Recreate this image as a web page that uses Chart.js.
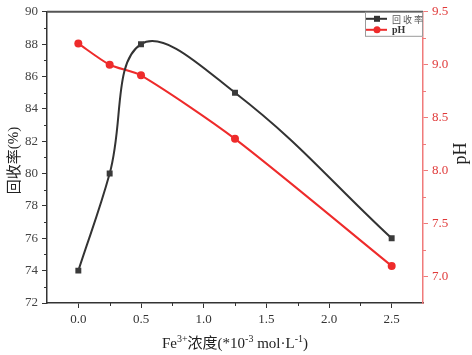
<!DOCTYPE html>
<html>
<head>
<meta charset="utf-8">
<script src="https://cdn.jsdelivr.net/npm/chart.js@4"></script>
<style>
  html, body { margin: 0; padding: 0; background: #fff; }
  #wrap { width: 472px; height: 355px; }
</style>
</head>
<body>
<div id="wrap"><canvas id="chart" width="472" height="355"></canvas></div>
<script>
// data
const concentration = [0, 0.25, 0.5, 1.25, 2.5];
const recovery = [74, 80, 88, 85, 76];
const phValues = [9.2, 9.0, 8.9, 8.3, 7.1];

const xTicks = [0, 0.5, 1.0, 1.5, 2.0, 2.5];
const xMinor = [0.25, 0.75, 1.25, 1.75, 2.25];
const leftTicks = [72, 74, 76, 78, 80, 82, 84, 86, 88, 90];
const leftMinor = [73, 75, 77, 79, 81, 83, 85, 87, 89];
const rightTicks = [7.0, 7.5, 8.0, 8.5, 9.0, 9.5];
const rightMinor = [7.25, 7.75, 8.25, 8.75, 9.25];

const DARK = '#333333';
const RED = '#ee2b2b';
const RED_AXIS = '#f07a7a';
const SERIF = '"Liberation Serif", "Times New Roman", serif';
const CJK = '"Noto Sans CJK SC", sans-serif';

function toPoints(xs, ys) {
    return xs.map((x, i) => ({ x: x, y: ys[i] }));
}

function setTicks(values) {
    return function(scale) {
        scale.ticks = values.map(v => ({ value: v }));
    };
}

// minor ticks, frame top line, axis titles and legend
const extras = {
    id: 'extras',
    afterDraw(chart) {
        const ctx = chart.ctx;
        const a = chart.chartArea;
        const sx = chart.scales.x, yl = chart.scales.y, yr = chart.scales.y1;
        ctx.save();

        // top frame line
        ctx.strokeStyle = '#555';
        ctx.lineWidth = 2;
        ctx.beginPath();
        ctx.moveTo(a.left, a.top);
        ctx.lineTo(a.right, a.top);
        ctx.stroke();

        // minor ticks
        ctx.lineWidth = 1;
        ctx.strokeStyle = DARK;
        ctx.beginPath();
        xMinor.forEach(v => {
            const px = Math.round(sx.getPixelForValue(v)) + 0.5;
            ctx.moveTo(px, a.bottom);
            ctx.lineTo(px, a.bottom + 3);
        });
        leftMinor.forEach(v => {
            const py = Math.round(yl.getPixelForValue(v)) + 0.5;
            ctx.moveTo(a.left, py);
            ctx.lineTo(a.left - 3, py);
        });
        ctx.stroke();
        ctx.strokeStyle = RED_AXIS;
        ctx.beginPath();
        rightMinor.forEach(v => {
            const py = Math.round(yr.getPixelForValue(v)) + 0.5;
            ctx.moveTo(a.right, py);
            ctx.lineTo(a.right + 3, py);
        });
        ctx.stroke();

        // left title
        ctx.fillStyle = '#222';
        ctx.textBaseline = 'middle';
        ctx.textAlign = 'center';
        ctx.save();
        ctx.translate(13, (a.top + a.bottom) / 2 + 3);
        ctx.rotate(-Math.PI / 2);
        ctx.font = '15px ' + CJK;
        const t1 = '回收率';
        ctx.font = '15px ' + SERIF;
        const t2 = '(%)';
        ctx.font = '15px ' + CJK;
        const w1 = ctx.measureText(t1).width;
        ctx.font = '15px ' + SERIF;
        const w2 = ctx.measureText(t2).width;
        ctx.textAlign = 'left';
        ctx.font = '15px ' + CJK;
        ctx.fillText(t1, -(w1 + w2) / 2, 0);
        ctx.font = '15px ' + SERIF;
        ctx.fillText(t2, -(w1 + w2) / 2 + w1, 1);
        ctx.restore();

        // right title
        ctx.save();
        ctx.translate(461, (a.top + a.bottom) / 2 - 4);
        ctx.rotate(-Math.PI / 2);
        ctx.font = '18px ' + SERIF;
        ctx.textAlign = 'center';
        ctx.fillText('pH', 0, 0);
        ctx.restore();

        // bottom title with superscripts
        const parts = [
            ['Fe', SERIF, 15, 0],
            ['3+', SERIF, 10, -6],
            ['浓度', CJK, 15, 0],
            ['(*10', SERIF, 15, 0],
            ['-3', SERIF, 10, -6],
            [' mol·L', SERIF, 15, 0],
            ['-1', SERIF, 10, -6],
            [')', SERIF, 15, 0]
        ];
        let total = 0;
        parts.forEach(p => {
            ctx.font = p[2] + 'px ' + p[1];
            p.push(ctx.measureText(p[0]).width);
            total += p[4];
        });
        let cx = (a.left + a.right) / 2 - total / 2;
        ctx.textAlign = 'left';
        ctx.textBaseline = 'alphabetic';
        parts.forEach(p => {
            ctx.font = p[2] + 'px ' + p[1];
            ctx.fillText(p[0], cx, 348 + p[3]);
            cx += p[4];
        });

        // legend box
        const lx = 365, ly = a.top, lw = a.right - 365, lh = 24;
        ctx.fillStyle = '#fff';
        ctx.fillRect(lx, ly + 1, lw, lh);
        ctx.strokeStyle = '#9a9a9a';
        ctx.lineWidth = 1;
        ctx.strokeRect(lx + 0.5, ly + 0.5, lw - 1, lh);
        const rows = [
            { label: '回 收 率', color: DARK, shape: 'rect', font: '9px ' + CJK, text: '#555' },
            { label: 'pH', color: RED, shape: 'circle', font: 'bold 10px ' + SERIF, text: '#333' }
        ];
        rows.forEach((r, i) => {
            const yy = ly + 7 + i * 11;
            ctx.strokeStyle = r.color;
            ctx.lineWidth = 2;
            ctx.beginPath();
            ctx.moveTo(lx + 1, yy);
            ctx.lineTo(lx + 22, yy);
            ctx.stroke();
            ctx.fillStyle = r.color;
            ctx.beginPath();
            if (r.shape === 'rect') {
                ctx.rect(lx + 9, yy - 3, 6, 6);
            } else {
                ctx.arc(lx + 12, yy, 3.5, 0, Math.PI * 2);
            }
            ctx.fill();
            ctx.fillStyle = r.text;
            ctx.font = r.font;
            ctx.textBaseline = 'middle';
            ctx.fillText(r.label, lx + 27, yy + 1);
        });

        ctx.restore();
    }
};

new Chart(document.getElementById('chart'), {
    type: 'line',
    data: {
        datasets: [{
            label: '回收率',
            data: toPoints(concentration, recovery),
            yAxisID: 'y',
            borderColor: DARK,
            backgroundColor: '#3a3a3a',
            borderWidth: 2,
            pointStyle: 'rect',
            pointRadius: 4.2,
            pointBorderWidth: 0,
            tension: 0.4
        }, {
            label: 'pH',
            data: toPoints(concentration, phValues),
            yAxisID: 'y1',
            borderColor: RED,
            backgroundColor: RED,
            borderWidth: 2,
            pointStyle: 'circle',
            pointRadius: 4,
            pointBorderWidth: 0,
            tension: 0.25
        }]
    },
    options: {
        responsive: false,
        animation: false,
        layout: { padding: { top: 6 } },
        plugins: {
            legend: { display: false },
            tooltip: { enabled: false }
        },
        scales: {
            x: {
                type: 'linear',
                min: -0.25,
                max: 2.75,
                afterBuildTicks: setTicks(xTicks),
                afterFit(scale) { scale.height = 52; },
                grid: { drawOnChartArea: false, tickLength: 5, tickColor: DARK, tickWidth: 1 },
                border: { color: DARK, width: 1.5 },
                ticks: {
                    color: '#333',
                    font: { family: SERIF, size: 13 },
                    padding: 4,
                    maxRotation: 0,
                    callback: v => v.toFixed(1)
                }
            },
            y: {
                position: 'left',
                min: 72,
                max: 90,
                afterBuildTicks: setTicks(leftTicks),
                afterFit(scale) { scale.width = 47; },
                grid: { drawOnChartArea: false, tickLength: 5, tickColor: DARK, tickWidth: 1 },
                border: { color: DARK, width: 1.5 },
                ticks: {
                    color: '#444',
                    font: { family: SERIF, size: 13 },
                    padding: 4
                }
            },
            y1: {
                position: 'right',
                min: 6.75,
                max: 9.5,
                afterBuildTicks: setTicks(rightTicks),
                afterFit(scale) { scale.width = 49; },
                grid: { drawOnChartArea: false, tickLength: 5, tickColor: RED_AXIS, tickWidth: 1 },
                border: { color: RED_AXIS, width: 1.5 },
                ticks: {
                    color: '#e03a3a',
                    font: { family: SERIF, size: 13 },
                    padding: 4,
                    callback: v => v.toFixed(1)
                }
            }
        }
    },
    plugins: [extras]
});
</script>
</body>
</html>
